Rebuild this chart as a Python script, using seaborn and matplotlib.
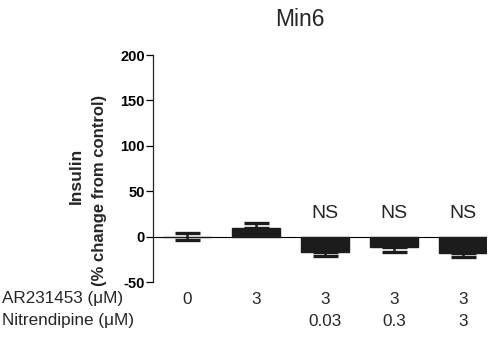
import numpy as np
import pandas as pd
import seaborn as sns
import matplotlib.pyplot as plt

sns.set_style("ticks")
plt.rcParams['font.family'] = ['Liberation Sans', 'DejaVu Sans']

# datos
groups = ["g1", "g2", "g3", "g4", "g5"]
insulin = [0, 9, -17, -12, -18]
err_low = [3.5, 0, 4.5, 4.5, 4.5]
err_up = [3.5, 5.5, 0, 0, 0]
ar_labels = ["0", "3", "3", "3", "3"]
nit_labels = ["", "", "0.03", "0.3", "3"]
sig_labels = ["", "", "NS", "NS", "NS"]
yticks = [-50, 0, 50, 100, 150, 200]

df = pd.DataFrame({"grupo": groups, "insulina": insulin})

fig = plt.figure(figsize=(4.94, 3.4), dpi=100)
ax = fig.add_axes([153 / 494, 1 - 282 / 340, (487 - 153) / 494, (282 - 55) / 340])

sns.barplot(data=df, x="grupo", y="insulina", color="#1c1c1c", saturation=1,
            width=0.7, errorbar=None, ax=ax, edgecolor="#1c1c1c", linewidth=1)
x = np.arange(len(groups))
ax.errorbar(x, insulin, yerr=[err_low, err_up], fmt="none", ecolor="#1c1c1c",
            elinewidth=1.8, capsize=9, capthick=2.4)
ax.axhline(0, color="black", lw=0.8, zorder=0)

ax.set_xlim(-0.49, 4.35)
ax.set_ylim(-50, 200)
ax.set_yticks(yticks)
ax.set_yticklabels([str(t) for t in yticks], fontweight="bold", fontsize=10.5)
ax.set_xticks([])
ax.set_xlabel("")
ax.set_ylabel("")
for s in ["top", "right", "bottom"]:
    ax.spines[s].set_visible(False)
ax.spines["left"].set_linewidth(0.9)
ax.tick_params(axis="y", length=5, width=0.9, pad=1, colors="black")

for i, lab in enumerate(sig_labels):
    if lab:
        ax.text(i, 21, lab, ha="center", va="baseline", fontsize=14)

fig.text(300 / 494, 1 - 19 / 340, "Min6", ha="center", va="center", fontsize=16.5)
fig.text(76 / 494, 1 - 176 / 340, "Insulin", rotation=90,
         ha="center", va="center", fontsize=12.5, fontweight="bold")
fig.text(99 / 494, 1 - 190 / 340, "(% change from control)", rotation=90,
         ha="center", va="center", fontsize=12, fontweight="bold")

# tabla inferior de tratamientos
trans = ax.get_xaxis_transform()
fig.text(2 / 494, 1 - 299 / 340, "AR231453 (μM)", ha="left", va="center", fontsize=12.3)
fig.text(2 / 494, 1 - 321 / 340, "Nitrendipine (μM)", ha="left", va="center", fontsize=12.3)
y1 = (282 - 299) / 227
y2 = (282 - 321) / 227
for i in range(len(groups)):
    ax.text(i, y1, ar_labels[i], transform=trans, ha="center", va="center", fontsize=12.3, clip_on=False)
    ax.text(i, y2, nit_labels[i], transform=trans, ha="center", va="center", fontsize=12.3, clip_on=False)

fig.savefig("out.png", dpi=100)
